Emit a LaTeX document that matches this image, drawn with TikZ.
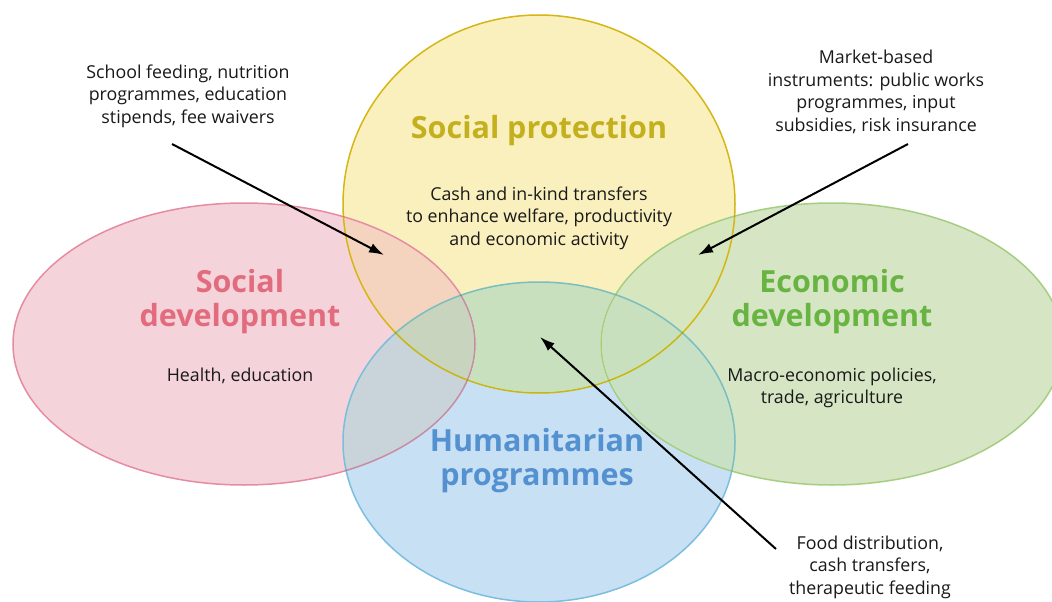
\documentclass[tikz,border=0pt]{standalone}
\usepackage{fontspec}
\setmainfont{Open Sans}
\usepackage{xcolor}
\usepackage{tikz}
\usetikzlibrary{arrows.meta}

\definecolor{sdpink}{RGB}{244,212,218}
\definecolor{sppale}{RGB}{250,240,190}
\definecolor{edgreen}{RGB}{214,230,196}
\definecolor{hpblue}{RGB}{200,224,244}
\definecolor{sdtext}{RGB}{226,108,126}
\definecolor{sptext}{RGB}{196,176,30}
\definecolor{edtext}{RGB}{104,180,66}
\definecolor{hptext}{RGB}{84,145,208}
\definecolor{sdline}{RGB}{230,140,162}
\definecolor{spline}{RGB}{214,182,20}
\definecolor{edline}{RGB}{166,206,130}
\definecolor{hpline}{RGB}{122,190,224}

\tikzset{
  area/.style={line width=1.5pt},
  heading/.style={font=\bfseries\fontsize{30.5}{34}\selectfont, align=center},
  body/.style={font=\fontsize{17.8}{22.5}\selectfont, align=center, text=black!90},
  pointer/.style={line width=2pt, -{Latex[length=15pt,width=10pt]}}
}

\begin{document}
\begin{tikzpicture}[x=1pt,y=-1pt]
        \useasboundingbox (0,0) rectangle (1052,602);
        \fill[white] (0,0) rectangle (1052,602);

        \begin{scope}[blend group=darken]
        \filldraw[area, fill=sdpink, draw=sdline] (244,344) ellipse [x radius=231, y radius=141];
        \filldraw[area, fill=edgreen, draw=edline] (832,344) ellipse [x radius=231, y radius=141];
        \filldraw[area, fill=sppale, draw=spline] (539,204) ellipse [x radius=196, y radius=189];
        \filldraw[area, fill=hpblue, draw=hpline] (539,442) ellipse [x radius=196, y radius=160];
        \end{scope}

        \node[heading, text=sptext] (sp) at (539,131) {Social protection};
        \node[body] (spdesc) at (539,218) {Cash and in-kind transfers\\to enhance welfare, productivity\\and economic activity};
        \node[heading, text=sdtext] (sd) at (240,302) {Social\\development};
        \node[body] (sddesc) at (240,376) {Health, education};
        \node[heading, text=edtext] (ed) at (832,302) {Economic\\development};
        \node[body] (eddesc) at (832,388) {Macro-economic policies,\\trade, agriculture};
        \node[heading, text=hptext] (hp) at (537,461) {Humanitarian\\programmes};

        \node[body] (notesd) at (188,96) {School feeding, nutrition\\programmes, education\\stipends, fee waivers};
        \node[body] (noteed) at (876,92) {Market-based\\instruments: public works\\programmes, input\\subsidies, risk insurance};
        \node[body] (notehp) at (870,567) {Food distribution,\\cash transfers,\\therapeutic feeding};

        \coordinate (sdfrom) at (172,144);
        \coordinate (sdto) at (384,255);
        \coordinate (edfrom) at (908,144);
        \coordinate (edto) at (698,255);
        \coordinate (hpfrom) at (776,549);
        \coordinate (hpto) at (540,337);

        \draw[pointer] (sdfrom) -- (sdto);
        \draw[pointer] (edfrom) -- (edto);
        \draw[pointer] (hpfrom) -- (hpto);
    \end{tikzpicture}
\end{document}
